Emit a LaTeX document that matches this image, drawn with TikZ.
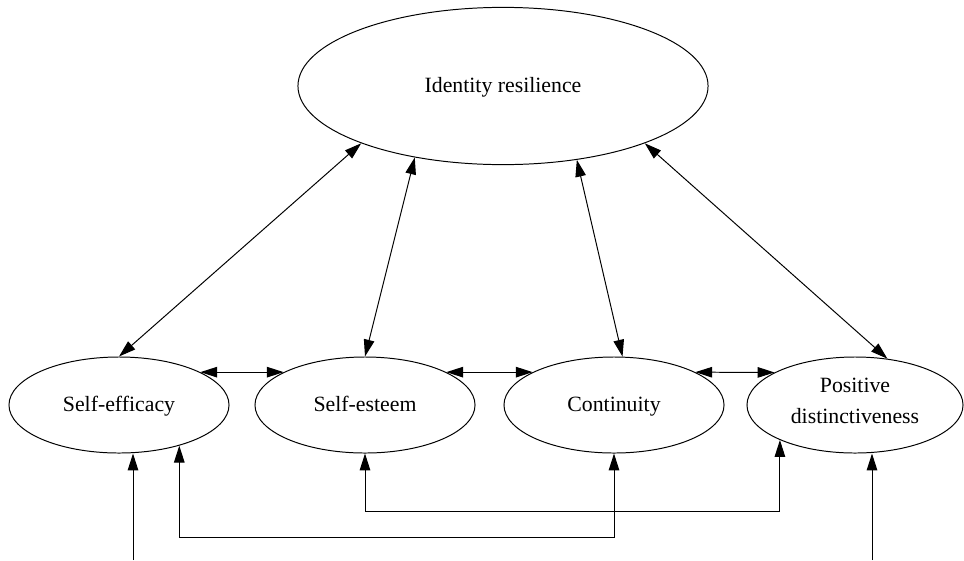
\documentclass[tikz,border=0pt]{standalone}
\usepackage{fontspec}
\setmainfont{Liberation Serif}
\usetikzlibrary{arrows.meta,shapes.geometric}

\begin{document}
\begin{tikzpicture}[>={Triangle[length=12pt,width=7.5pt]}, line width=0.7pt,
	x=0.025cm, y=-0.025cm,
	blob/.style={draw, ellipse, inner sep=0pt, minimum width=5.5cm,
		minimum height=2.4cm, align=center, font=\fontsize{15.5}{22}\selectfont,
		execute at begin node=\strut}]

\useasboundingbox (0,0) rectangle (964,560);

\node[blob, minimum width=10.25cm, minimum height=3.93cm] (ir) at (503,86) {Identity resilience};

\node[blob] (eff) at (119,405) {Self-efficacy};
\node[blob] (est) at (365,405) {Self-esteem};
\node[blob] (cont) at (614,405) {Continuity};
\node[blob, minimum width=5.4cm] (pd) at (855,405) {Positive\\distinctiveness};

\coordinate (in1) at (133,560);
\coordinate (in2) at (872,560);
\coordinate (low1) at (0,537);
\coordinate (low2) at (0,511);

\draw[<->] (ir.202) -- (eff.north);
\draw[<->] (ir.219) -- (est.north);
\draw[<->] (ir.315) -- (cont.80);
\draw[<->] (ir.338) -- (pd.55);

\draw[<->] (eff.22) -- (est.158);
\draw[<->] (est.22) -- (cont.158);
\draw[<->] (cont.22) -- (pd.158);

\draw[<->] (eff.-34) -- (eff.-34 |- low1) -- (cont.south |- low1) -- (cont.south);
\draw[<->] (est.south) -- (est.south |- low2) -- (pd.205 |- low2) -- (pd.205);

\draw[->] (in1) -- (in1 |- eff.south);
\draw[->] (in2) -- (in2 |- pd.south);

\end{tikzpicture}
\end{document}
